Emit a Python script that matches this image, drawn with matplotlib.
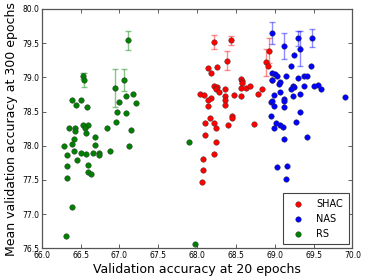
import matplotlib
matplotlib.use('Agg')
import matplotlib.pyplot as plt
import numpy as np

# SHAC points: x = accuracy at 20 epochs, y = mean accuracy at 300 epochs, err = std (0 = none)
shac_x = [68.22, 68.44, 68.38, 68.93, 68.89, 68.91, 68.14, 68.26, 68.18, 68.56,
          68.58, 68.58, 68.22, 68.26, 68.24, 68.28, 68.36, 68.57, 68.63, 68.68,
          68.83, 68.79, 68.04, 68.09, 68.18, 68.14, 68.36, 68.36, 68.48, 68.56,
          68.14, 68.36, 68.45, 68.45, 68.16, 68.10, 68.22, 68.24, 68.40, 68.73,
          68.10, 68.24, 68.22, 68.08, 68.08, 68.06, 68.96]
shac_y = [79.52, 79.54, 79.24, 79.39, 79.22, 79.17, 79.14, 79.15, 79.06, 78.98,
          78.95, 78.91, 78.88, 78.86, 78.83, 78.79, 78.83, 78.84, 78.85, 78.87,
          78.83, 78.76, 78.75, 78.74, 78.70, 78.67, 78.72, 78.67, 78.74, 78.73,
          78.58, 78.59, 78.43, 78.40, 78.40, 78.33, 78.33, 78.26, 78.30, 78.32,
          78.16, 78.06, 77.88, 77.80, 77.65, 77.47, 78.96]
shac_err = [0.10, 0.07, 0.14, 0.18, 0.20] + [0] * 42

nas_x = [68.97, 69.12, 69.30, 69.33, 69.48, 69.25, 69.46, 69.21, 68.97, 69.00,
         69.03, 69.15, 69.30, 69.37, 69.41, 68.97, 69.07, 69.05, 69.24, 69.25,
         69.21, 69.37, 69.51, 69.55, 69.59, 69.07, 68.99, 69.12, 69.12, 69.23,
         69.33, 69.90, 68.95, 68.97, 68.99, 69.12, 69.33, 68.95, 69.01, 69.07,
         69.11, 68.99, 69.27, 69.12, 69.41, 69.03, 69.16, 69.15]
nas_y = [79.65, 79.46, 79.57, 79.42, 79.58, 79.32, 79.16, 79.16, 79.06, 79.05,
         79.02, 79.02, 78.99, 79.02, 79.02, 78.96, 78.93, 78.90, 78.87, 78.86,
         78.83, 78.88, 78.87, 78.89, 78.83, 78.79, 78.74, 78.68, 78.65, 78.72,
         78.75, 78.71, 78.64, 78.66, 78.58, 78.56, 78.50, 78.43, 78.33, 78.30,
         78.27, 78.26, 78.35, 78.10, 78.13, 77.69, 77.71, 77.52]
nas_err = [0.16, 0.19, 0.11, 0.26, 0.13] + [0] * 43

rs_x = [67.11, 66.53, 66.55, 66.94, 67.06, 66.39, 66.44, 66.50, 66.58, 67.00,
        66.97, 67.09, 67.09, 67.18, 67.21, 66.96, 66.84, 66.35, 66.43, 66.43,
        66.53, 66.59, 66.57, 66.56, 66.69, 67.15, 66.41, 66.29, 66.39, 66.33,
        66.41, 66.50, 66.57, 66.68, 66.66, 66.74, 66.74, 66.88, 67.12, 66.46,
        66.33, 66.59, 66.59, 66.63, 66.33, 66.39, 66.31, 67.89, 67.97]
rs_y = [79.54, 79.02, 78.96, 78.84, 78.96, 78.67, 78.59, 78.67, 78.56, 78.64,
        78.50, 78.48, 78.72, 78.76, 78.62, 78.35, 78.26, 78.26, 78.26, 78.21,
        78.30, 78.30, 78.19, 78.26, 78.13, 78.23, 78.10, 78.00, 78.02, 77.87,
        77.92, 77.89, 77.88, 78.01, 77.90, 77.90, 77.87, 77.92, 77.99, 77.79,
        77.71, 77.72, 77.61, 77.59, 77.53, 77.10, 76.68, 78.05, 76.57]
rs_err = [0.14, 0.05, 0.10, 0.28, 0.16] + [0] * 44

series = [('SHAC', shac_x, shac_y, shac_err, 'r'),
          ('NAS', nas_x, nas_y, nas_err, 'b'),
          ('RS', rs_x, rs_y, rs_err, 'g')]

fig = plt.figure(figsize=(3.66, 2.79), dpi=100)
ax = fig.add_axes([0.114, 0.11, 0.849, 0.858])

for name, xs, ys, errs, col in series:
    xs = np.array(xs)
    ys = np.array(ys)
    errs = np.array(errs)
    m = errs > 0
    ax.errorbar(xs[m], ys[m], yerr=errs[m], fmt='none', ecolor=col, alpha=0.45,
                elinewidth=1.0, capsize=2.5, capthick=1.0, zorder=2)
    ax.scatter(xs, ys, s=16, c=col, edgecolors='#333333', linewidths=0.3,
               label=name, zorder=3)

ax.set_xlim(66.0, 70.0)
ax.set_ylim(76.5, 80.0)
ax.set_xticks(np.arange(66.0, 70.01, 0.5))
ax.set_yticks(np.arange(76.5, 80.01, 0.5))
ax.set_xticklabels(['%.1f' % v for v in np.arange(66.0, 70.01, 0.5)])
ax.set_yticklabels(['%.1f' % v for v in np.arange(76.5, 80.01, 0.5)])
ax.tick_params(direction='in', top=True, right=True, length=3, width=0.6,
               labelsize=5.5, pad=2, color='#444444')
for sp in ax.spines.values():
    sp.set_color('#555555')
    sp.set_linewidth(0.9)

ax.set_xlabel('Validation accuracy at 20 epochs', fontsize=9, labelpad=2)
ax.set_ylabel('Mean validation accuracy at 300 epochs', fontsize=9, labelpad=3)

leg = ax.legend(loc='lower right', scatterpoints=1, fontsize=7, fancybox=False,
                framealpha=1, borderpad=0.6, labelspacing=0.5, handletextpad=0.8,
                borderaxespad=0.4)
leg.get_frame().set_edgecolor('#444444')
leg.get_frame().set_linewidth(0.8)

fig.savefig('out.png', dpi=100)
